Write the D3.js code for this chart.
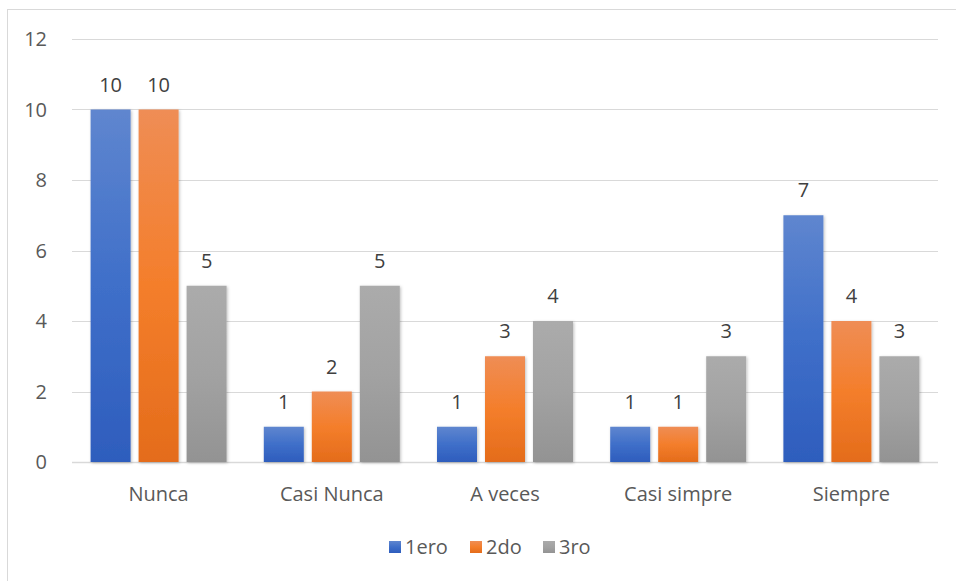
<!DOCTYPE html>
<html>
<head>
<meta charset="utf-8">
<script src="https://cdn.jsdelivr.net/npm/d3@7"></script>
<style>
  body { margin: 0; background: #fff; }
  svg { display: block; font-family: "Open Sans", sans-serif; }
</style>
</head>
<body>
<div id="wrapper"></div>
<script>
// data
const categories = ["Nunca", "Casi Nunca", "A veces", "Casi simpre", "Siempre"]
const seriesNames = ["1ero", "2do", "3ro"]
const primero = [10, 1, 1, 1, 7]
const segundo = [10, 2, 3, 1, 4]
const tercero = [5, 5, 4, 3, 3]
const yTicks = [0, 2, 4, 6, 8, 10, 12]

const seriesValues = [primero, segundo, tercero]
// gradient stops: top, middle, bottom
const seriesColors = [
    ["#5f86cf", "#3f6fc9", "#2e5dbd"],
    ["#ef8d55", "#f47e2b", "#e46c1b"],
    ["#ababab", "#a2a2a2", "#939393"],
]

function drawPlot() {
    let dimensions = {
        width: 956,
        height: 581,
        margin: { top: 39, right: 18, bottom: 119, left: 72 },
    }
    dimensions.boundedWidth = dimensions.width - dimensions.margin.left - dimensions.margin.right
    dimensions.boundedHeight = dimensions.height - dimensions.margin.top - dimensions.margin.bottom

    const svg = d3.select("#wrapper")
        .append("svg")
        .attr("width", dimensions.width)
        .attr("height", dimensions.height)

    // outer chart frame
    svg.append("rect")
        .attr("x", 7.5).attr("y", 9.5)
        .attr("width", 1000).attr("height", 1000)
        .attr("fill", "none")
        .attr("stroke", "#d9d9d9")

    const defs = svg.append("defs")
    seriesColors.forEach((c, i) => {
        const g = defs.append("linearGradient")
            .attr("id", "grad" + i)
            .attr("x1", 0).attr("y1", 0).attr("x2", 0).attr("y2", 1)
        g.append("stop").attr("offset", "0%").attr("stop-color", c[0])
        g.append("stop").attr("offset", "50%").attr("stop-color", c[1])
        g.append("stop").attr("offset", "100%").attr("stop-color", c[2])
    })
    const shadow = defs.append("filter").attr("id", "shadow")
        .attr("x", "-20%").attr("y", "-20%").attr("width", "140%").attr("height", "140%")
    shadow.append("feDropShadow")
        .attr("dx", 1).attr("dy", 1).attr("stdDeviation", 1.5)
        .attr("flood-color", "#000").attr("flood-opacity", 0.25)

    const bounds = svg.append("g")
        .attr("transform", `translate(${dimensions.margin.left},${dimensions.margin.top})`)

    const xScale = d3.scaleBand()
        .domain(categories)
        .range([0, dimensions.boundedWidth])

    const yScale = d3.scaleLinear()
        .domain([0, 12])
        .range([dimensions.boundedHeight, 0])

    const barWidth = 40
    const barGap = 8
    const groupWidth = seriesNames.length * barWidth + (seriesNames.length - 1) * barGap
    const xInner = d3.scaleBand()
        .domain(seriesNames)
        .range([(xScale.bandwidth() - groupWidth) / 2, (xScale.bandwidth() + groupWidth) / 2])
        .paddingInner(barGap / (barWidth + barGap))

    const fontSize = "20px"

    //* gridlines
    bounds.append("g")
        .selectAll("line")
        .data(yTicks)
        .join("line")
        .attr("x1", 0)
        .attr("x2", dimensions.boundedWidth)
        .attr("y1", d => Math.round(yScale(d)) + 0.5)
        .attr("y2", d => Math.round(yScale(d)) + 0.5)
        .attr("stroke", "#d9d9d9")
        .attr("stroke-width", d => d === 0 ? 1.5 : 1)

    //* y tick labels
    bounds.append("g")
        .selectAll("text")
        .data(yTicks)
        .join("text")
        .attr("x", -25)
        .attr("y", d => yScale(d))
        .attr("dy", "0.35em")
        .attr("text-anchor", "end")
        .attr("fill", "#595959")
        .style("font-size", fontSize)
        .text(d => d)

    //! bars
    const groups = bounds.selectAll(".group")
        .data(categories)
        .join("g")
        .attr("transform", d => `translate(${xScale(d)},0)`)

    groups.selectAll("rect")
        .data((d, ci) => seriesNames.map((s, si) => ({ s, si, v: seriesValues[si][ci] })))
        .join("rect")
        .attr("x", d => xInner(d.s))
        .attr("width", xInner.bandwidth())
        .attr("y", d => yScale(d.v))
        .attr("height", d => yScale(0) - yScale(d.v))
        .attr("fill", d => `url(#grad${d.si})`)
        .attr("filter", "url(#shadow)")

    groups.selectAll("text")
        .data((d, ci) => seriesNames.map((s, si) => ({ s, si, v: seriesValues[si][ci] })))
        .join("text")
        .attr("x", d => xInner(d.s) + xInner.bandwidth() / 2)
        .attr("y", d => yScale(d.v) - 25)
        .attr("dy", "0.35em")
        .attr("text-anchor", "middle")
        .attr("fill", "#404040")
        .style("font-size", fontSize)
        .text(d => d.v)

    //* category labels
    bounds.append("g")
        .selectAll("text")
        .data(categories)
        .join("text")
        .attr("x", d => xScale(d) + xScale.bandwidth() / 2)
        .attr("y", dimensions.boundedHeight + 32)
        .attr("dy", "0.35em")
        .attr("text-anchor", "middle")
        .attr("fill", "#595959")
        .style("font-size", fontSize)
        .text(d => d)

    //! legend
    const legendX = [389, 470, 543]
    const legend = svg.append("g")
        .selectAll("g")
        .data(seriesNames)
        .join("g")
        .attr("transform", (d, i) => `translate(${legendX[i]},547)`)
    legend.append("rect")
        .attr("x", 0).attr("y", -6)
        .attr("width", 12).attr("height", 12)
        .attr("fill", (d, i) => `url(#grad${i})`)
    legend.append("text")
        .attr("x", 16)
        .attr("dy", "0.35em")
        .attr("fill", "#595959")
        .style("font-size", fontSize)
        .text(d => d)
}

drawPlot()
</script>
</body>
</html>
